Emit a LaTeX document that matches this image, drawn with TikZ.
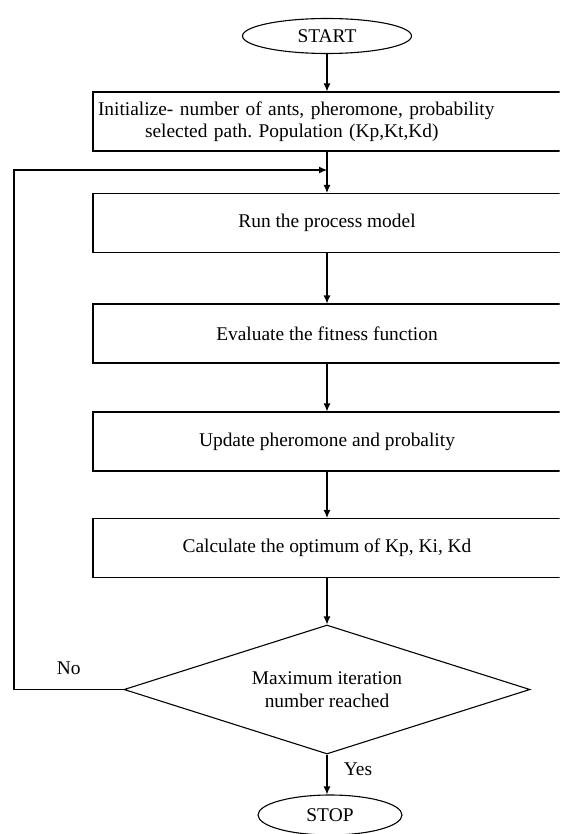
\documentclass[tikz,border=0pt]{standalone}
\usepackage{fontspec}
\setmainfont{Liberation Serif}
\usetikzlibrary{shapes.geometric,arrows.meta}
\frenchspacing

\tikzset{
    box/.style={draw, rectangle, minimum width=468pt, minimum height=59pt, inner sep=0pt},
    term/.style={draw, ellipse, inner sep=0pt},
    decide/.style={draw, diamond, aspect=3.15, minimum width=406pt, minimum height=129pt, inner sep=0pt, align=center},
    flow/.style={-{Latex[length=8pt,width=7pt]}},
}

\begin{document}
\begin{tikzpicture}[x=1pt, y=-1pt, line width=1.1pt, font=\fontsize{19.4}{22.5}\selectfont]
        \useasboundingbox (0,0) rectangle (563,834);
        \clip (0,0) rectangle (559.5,834);

        \node[term, minimum width=169pt, minimum height=35pt] (start) at (327,36) {START};
        \node[box, text width=458pt, inner xsep=5pt, align=left] (init) at (327,121.5)
            {Initialize- number of ants, pheromone, probability\\\hspace*{47pt}selected path. Population (Kp,Kt,Kd)};
        \node[box] (run) at (327,223) {Run the process model};
        \node[box] (eval) at (327,333.5) {Evaluate the fitness function};
        \node[box] (upd) at (327,441.5) {Update pheromone and probality};
        \node[box] (calc) at (327,548) {Calculate the optimum of Kp, Ki, Kd};
        \node[decide] (dec) at (327,689.5) {Maximum iteration\\number reached};
        \node[term, minimum width=144pt, minimum height=40pt] (stop) at (330,815) {STOP};

        \coordinate (join) at (327,170);
        \coordinate (back) at (14,170);

        \draw[flow] (start) -- (init);
        \draw[flow] (init) -- (run);
        \draw[flow] (run) -- (eval);
        \draw[flow] (eval) -- (upd);
        \draw[flow] (upd) -- (calc);
        \draw[flow] (calc) -- (dec);
        \draw[flow] (dec.south) -- node[right=13pt, yshift=5.5pt] {Yes} (dec.south |- stop.north);
        \draw[flow] (dec.west) -- node[above=11pt] {No} (dec.west -| back) -- (back) -- (join);
\end{tikzpicture}
\end{document}
